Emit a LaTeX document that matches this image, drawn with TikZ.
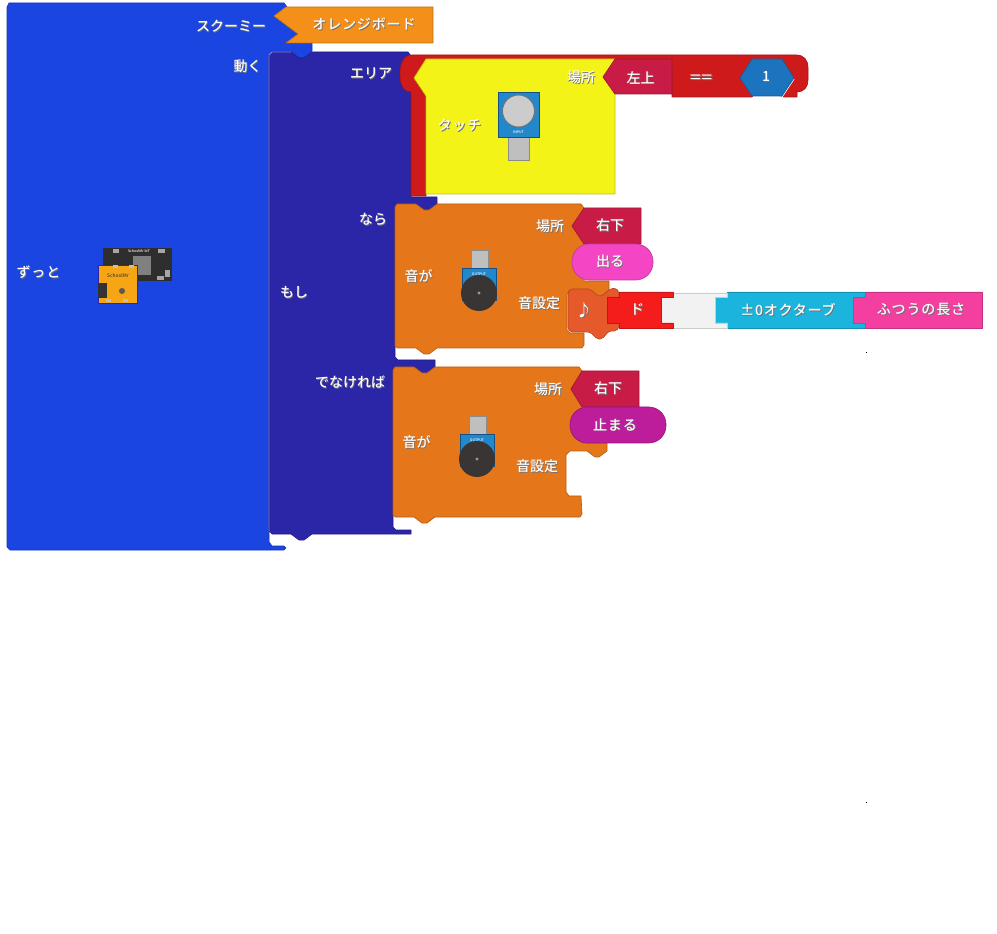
\documentclass[tikz,border=0pt]{standalone}
\usepackage{fontspec}
\setmainfont{Noto Sans CJK JP Medium}
\newfontfamily\widefont[LetterSpace=6]{Noto Sans CJK JP Medium}
\definecolor{cblue}{HTML}{1A45E0}
\definecolor{cindigo}{HTML}{2B25A8}
\definecolor{cred}{HTML}{CE1A1A}
\definecolor{corange}{HTML}{E5761A}
\definecolor{cyellow}{HTML}{F3F318}
\definecolor{camber}{HTML}{F49019}
\definecolor{ccrim}{HTML}{C81C47}
\definecolor{cpink}{HTML}{F345C4}
\definecolor{cmag}{HTML}{BD1C9A}
\definecolor{chex}{HTML}{1C74BE}
\definecolor{ccyan}{HTML}{1BB4DC}
\definecolor{cpink2}{HTML}{F53FA0}
\definecolor{cdo}{HTML}{F51C1C}
\definecolor{cnote}{HTML}{E5592B}
\definecolor{csens}{HTML}{2288CC}
\definecolor{cwhitebox}{HTML}{F2F2F2}
\definecolor{cspk}{HTML}{393534}
\newcommand{\sh}[1]{\makebox[0pt][l]{\raisebox{-.7pt}{\hspace{.7pt}\textcolor{black!55}{#1}}}#1}
\newcommand{\tx}[3]{\node[lbl] (#1) at (#2) {\sh{#3}};}
\newcommand{\txw}[3]{\node[lbl] (#1) at (#2) {\widefont\sh{#3}};}
\tikzset{
  lbl/.style={text=white,inner sep=0pt,font=\fontsize{10.5}{12}\selectfont},
  blk/.style={fill=#1,draw=#1!80!black,line width=.5pt,line join=round},
  tiny/.style={inner sep=0pt,font=\fontsize{2.6}{3}\selectfont},
}
\begin{document}
\begin{tikzpicture}[x=.75pt,y=-.75pt]
\useasboundingbox (0,0) rectangle (997,934);
% forever block
\draw[blk=cblue] (7,7) -- (9,3) -- (284,3) -- (287,7) -- (274,16) -- (298,34) -- (286,43) -- (312,43) -- (312,51) -- (304,58) -- (299,58) -- (291,52) -- (272,52) -- (269,55) -- (269,542) -- (272,546) -- (284,546) -- (286,548) -- (284,550) -- (10,550) -- (7,547) -- cycle;
% school board value
\draw[blk=camber] (286,7) -- (433,7) -- (433,43) -- (286,43) -- (298,34) -- (274,16) -- cycle;
% if block
\draw[blk=cindigo] (269,55) -- (272,52) -- (291,52) -- (299,58) -- (304,58) -- (312,52) -- (408,52) -- (411,56) -- (411,197) -- (437,197) -- (437,204) -- (429,210) -- (424,210) -- (416,204) -- (397,204) -- (395,207) -- (395,357) -- (398,360) -- (435,360) -- (435,367) -- (427,373) -- (422,373) -- (414,367) -- (396,367) -- (393,370) -- (393,527) -- (396,530) -- (411,530) -- (411,534) -- (312,534) -- (304,540) -- (299,540) -- (291,534) -- (272,534) -- (269,531) -- cycle;
\draw[cindigo!55!white,line width=.6pt] (269,531) -- (269,55) -- (272,52) -- (291,52);
% condition
\draw[blk=cred] (412,55) -- (796,55) .. controls (804,55) and (808,60) .. (808,68) -- (808,80) .. controls (808,87) and (804,92) .. (797,92) -- (797,97) -- (783,97) -- (770,90) -- (756,90) -- (752,97) -- (672,97) -- (672,70) -- (426,70) -- (426,196) -- (411,196) -- (411,92) .. controls (404,92) and (400,86) .. (400,74) .. controls (400,62) and (404,55) .. (412,55) -- cycle;
\draw[blk=cyellow] (414,78) -- (426,59) -- (615,59) -- (603,77) -- (615,94) -- (615,194) -- (426,194) -- (426,96) -- cycle;
\draw[blk=ccrim] (615,59) -- (672,59) -- (672,94) -- (615,94) -- (603,77) -- cycle;
\draw[white,line width=.8pt] (794,79) -- (782,97);
\draw[blk=chex] (740,78) -- (752,59) -- (782,59) -- (794,78) -- (782,96) -- (752,96) -- cycle;
% touch sensor
\draw[fill=black!25,draw=black!45,line width=.7pt] (508,137) rectangle (529,160);
\draw[fill=csens,draw=chex!70!black,line width=.7pt] (498,92) rectangle (539,137);
\draw[fill=black!20,draw=black!55,line width=.7pt] (518.5,111) circle (16);
\node[tiny,text=white] (inp) at (518.5,132) {INPUT};
% sound blocks
\draw[blk=corange] (395,207) -- (397,204) -- (416,204) -- (424,210) -- (429,210) -- (437,204) -- (581,204) -- (584,208) -- (572,226) -- (584,244) -- (584,281) -- (609,281) -- (609,290) -- (600,297) -- (595,297) -- (588,290) -- (571,290) -- (567,294) -- (567,330) -- (570,333) -- (584,333) -- (584,345) -- (582,348) -- (437,348) -- (429,354) -- (424,354) -- (416,348) -- (397,348) -- (395,346) -- cycle;
\draw[blk=corange] (393,370) -- (395,367) -- (414,367) -- (422,373) -- (427,373) -- (435,367) -- (579,367) -- (582,371) -- (571,389) -- (582,407) -- (582,443) -- (607,443) -- (607,451) -- (599,457) -- (595,457) -- (587,451) -- (570,451) -- (566,455) -- (566,492) -- (569,496) -- (581,496) -- (582,514) -- (580,517) -- (435,517) -- (427,523) -- (422,523) -- (414,517) -- (395,517) -- (393,515) -- cycle;
% output module 1
\draw[fill=black!25,draw=black!45,line width=.7pt] (471,250) rectangle (488,268);
\draw[fill=csens,draw=chex!70!black,line width=.5pt] (462,268) rectangle (496,300);
\fill[cspk] (479,293) circle (18);
\fill[black!40] (479,293) circle (1.7);
\node[tiny,text=white] (out1) at (479,274) {OUTPUT};
% output module 2
\draw[fill=black!25,draw=black!45,line width=.7pt] (469,416) rectangle (486,434);
\draw[fill=csens,draw=chex!70!black,line width=.5pt] (460,434) rectangle (494,466);
\fill[cspk] (477,459) circle (18);
\fill[black!40] (477,459) circle (1.7);
\node[tiny,text=white] (out2) at (477,440) {OUTPUT};
% place values
\draw[blk=ccrim] (584,208) -- (641,208) -- (641,244) -- (584,244) -- (572,226) -- cycle;
\draw[blk=ccrim] (582,371) -- (639,371) -- (639,407) -- (582,407) -- (571,389) -- cycle;
\draw[blk=cpink,rounded corners=13pt] (572,244) rectangle (653,280);
\draw[blk=cmag,rounded corners=13pt] (570,407) rectangle (666,443);
% note chain
\draw[blk=cpink2] (865,292) -- (982,292) -- (982,328) -- (865,328) -- (865,323) -- (853,323) -- (853,297) -- (865,297) -- cycle;
\draw[blk=ccyan] (727,292) -- (865,292) -- (865,297) -- (853,297) -- (853,323) -- (865,323) -- (865,328) -- (727,328) -- (727,323) -- (715,323) -- (715,297) -- (727,297) -- cycle;
\draw[fill=cwhitebox,draw=black!20,line width=.5pt] (673,293) -- (727,293) -- (727,297) -- (715,297) -- (715,323) -- (727,323) -- (727,328) -- (673,328) -- (673,323) -- (661,323) -- (661,297) -- (673,297) -- cycle;
\draw[blk=cnote,rounded corners=1.5pt] (570,289) -- (590,289) -- (598,296) -- (602,296) -- (610,289) -- (616,288) -- (619,292) -- (619,328) -- (616,331) -- (609,331) -- (602,339) -- (597,339) -- (590,332) -- (570,332) -- (568,329) -- (568,292) -- cycle;
\draw[blk=cdo] (619,292) -- (673,292) -- (673,297) -- (661,297) -- (661,323) -- (673,323) -- (673,328) -- (619,328) -- (619,323) -- (607,323) -- (607,297) -- (619,297) -- cycle;
% school board picture
\fill[black!82] (103,248) rectangle (172,281);
\fill[black!50] (133,256) rectangle (151,275);
\foreach \bx/\by/\bw/\bh in {113/249/6/4,158/249/7/4,157/276/7/4,165/270/5/7} \fill[black!35] (\bx,\by) rectangle ++(\bw,\bh);
\node[tiny,text=white] (brd) at (139,251) {SchoolMr bIT};
\draw[fill=camber!80!yellow,draw=cindigo,line width=.4pt] (98,265) rectangle (137,303);
\fill[black!80] (98,283) rectangle (107,298);
\fill[black!65] (122,291) circle (3);
\foreach \bx/\by in {113/265,129/265,106/299,123/299} \fill[black!25] (\bx,\by) rectangle ++(5,3);
\node[tiny,text=black!75,font=\fontsize{3.6}{4}\selectfont] (orb) at (118,275.5) {SchoolMr};
% specks
\fill[black] (866,352) rectangle (867,353);
\fill[black] (866,802) rectangle (867,803);
% labels
\tx{t1}{231,27}{スクーミー}
\txw{t2}{364,25}{オレンジボード}
\tx{t3}{247.5,67}{動く}
\tx{t4}{371,74}{エリア}
\txw{t5}{38.5,273}{ずっと}
\tx{t6}{294,293}{もし}
\txw{t7}{459.5,126}{タッチ}
\tx{t8}{581,78}{場所}
\tx{t9}{640.5,78}{左上}
\node[lbl,xscale=1.4,transform shape] (t10) at (701,79) {\sh{==}};
\tx{t11}{766,77}{1}
\tx{t12}{373,220}{なら}
\tx{t13}{418.5,277}{音が}
\tx{t14}{550,227}{場所}
\tx{t15}{610,226}{右下}
\tx{t16}{610,262}{出る}
\tx{t17}{539,304}{音設定}
\tx{t18}{637,310}{ド}
\txw{t19}{788,310}{±0オクターブ}
\txw{t20}{921,310}{ふつうの長さ}
\node[lbl,font=\fontsize{12.5}{15}\selectfont] (t21) at (584,311) {\sh{♪}};
\tx{t22}{350,383}{でなければ}
\tx{t23}{416.5,443}{音が}
\tx{t24}{548,390}{場所}
\tx{t25}{608,389}{右下}
\txw{t26}{615,425}{止まる}
\tx{t27}{537,467}{音設定}
\end{tikzpicture}
\end{document}
